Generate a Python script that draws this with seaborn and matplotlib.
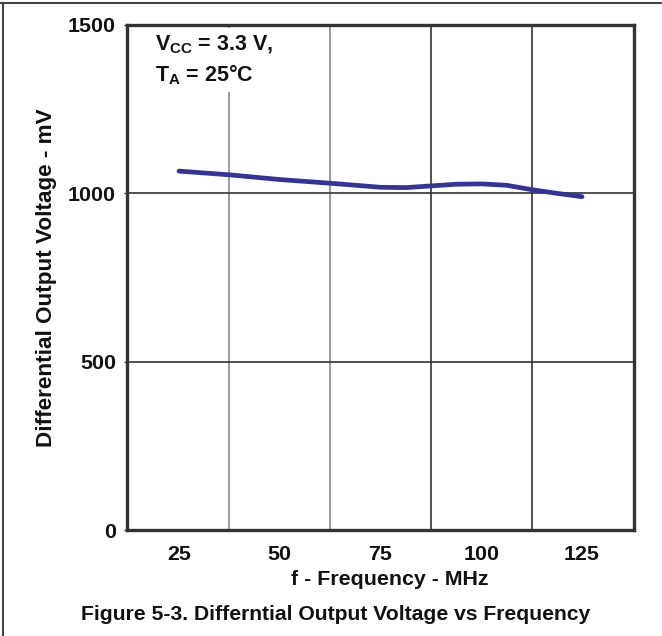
import matplotlib
matplotlib.use("Agg")
import matplotlib.pyplot as plt
import seaborn as sns
import pandas as pd
from matplotlib.lines import Line2D

freq_mhz = [25, 37.5, 50, 62.5, 75, 81.25, 87.5, 93.75, 100, 106.25, 112.5, 118.75, 125]
vod_mv = [1066, 1055, 1041, 1030, 1018, 1017, 1022, 1027, 1028, 1024, 1011, 1000, 990]
x_ticks = [25, 50, 75, 100, 125]
y_ticks = [0, 500, 1000, 1500]
x_grid = [37.5, 62.5, 87.5, 112.5]

sns.set_theme(style="white")
plt.rcParams['font.family'] = ['Liberation Sans', 'DejaVu Sans']
plt.rcParams['mathtext.fontset'] = 'custom'
plt.rcParams['mathtext.rm'] = 'Liberation Sans:bold'
plt.rcParams['mathtext.bf'] = 'Liberation Sans:bold'
plt.rcParams['mathtext.it'] = 'Liberation Sans:bold'

W, H = 662, 636
fig = plt.figure(figsize=(W / 100, H / 100), dpi=100)
ax = fig.add_axes([127 / W, 1 - 530 / H, (634 - 127) / W, (530 - 25) / H])

df = pd.DataFrame({"f": freq_mhz, "v": vod_mv})
sns.lineplot(data=df, x="f", y="v", ax=ax, color="#333399", linewidth=3.4, zorder=3)

ax.set_xlim(12.1, 137.9)
ax.set_ylim(0, 1500)
ax.set_xticks(x_ticks)
ax.set_xticks(x_grid, minor=True)
ax.set_yticks(y_ticks)
ax.set_xticklabels([str(t) for t in x_ticks], fontsize=15.4, fontweight='bold', color='#111111')
ax.set_yticklabels([str(t) for t in y_ticks], fontsize=15.4, fontweight='bold', color='#111111')
ax.tick_params(axis='x', which='both', length=0, pad=11)
ax.tick_params(axis='y', which='major', length=2, width=1, color='#333333', left=True, pad=6)

ax.set_axisbelow(True)
ax.grid(False)
ax.xaxis.grid(True, which='minor', color='#333333', linewidth=1.2)
ax.yaxis.grid(True, which='major', color='#333333', linewidth=1.2)
for t, c in zip(ax.xaxis.get_minor_ticks(), ['#8a8a8a', '#8a8a8a', '#333333', '#333333']):
    t.gridline.set_color(c)

for s in ax.spines.values():
    s.set_visible(True)
    s.set_color('#333333')
    s.set_linewidth(2.4)

ax.set_xlabel("f - Frequency - MHz", fontsize=15.4, fontweight='bold', color='#111111')
ax.xaxis.set_label_coords(0.519, -0.079)
ax.set_ylabel("Differential Output Voltage - mV", fontsize=16.2, fontweight='bold', color='#111111', labelpad=7.5)

ax.text(19.0, 1475, "$\\mathbf{V_{CC}}$ = 3.3 V,\n$\\mathbf{T_{A}}$ = 25°C", fontsize=15.5, fontweight='bold',
        color='#111111', va='top', ha='left', linespacing=1.35, zorder=4,
        bbox=dict(facecolor='white', edgecolor='none', pad=4))

fig.text(336 / W, 1 - 615 / H, "Figure 5-3. Differntial Output Voltage vs Frequency", fontsize=15.2,
         fontweight='bold', color='#111111', ha='center', va='center')

fig.add_artist(Line2D([0, 1], [1 - 3 / H, 1 - 3 / H], transform=fig.transFigure, color='#444444', linewidth=1.5))
fig.add_artist(Line2D([3 / W, 3 / W], [0, 1 - 3 / H], transform=fig.transFigure, color='#444444', linewidth=1.5))

fig.savefig("out.png", dpi=100)
